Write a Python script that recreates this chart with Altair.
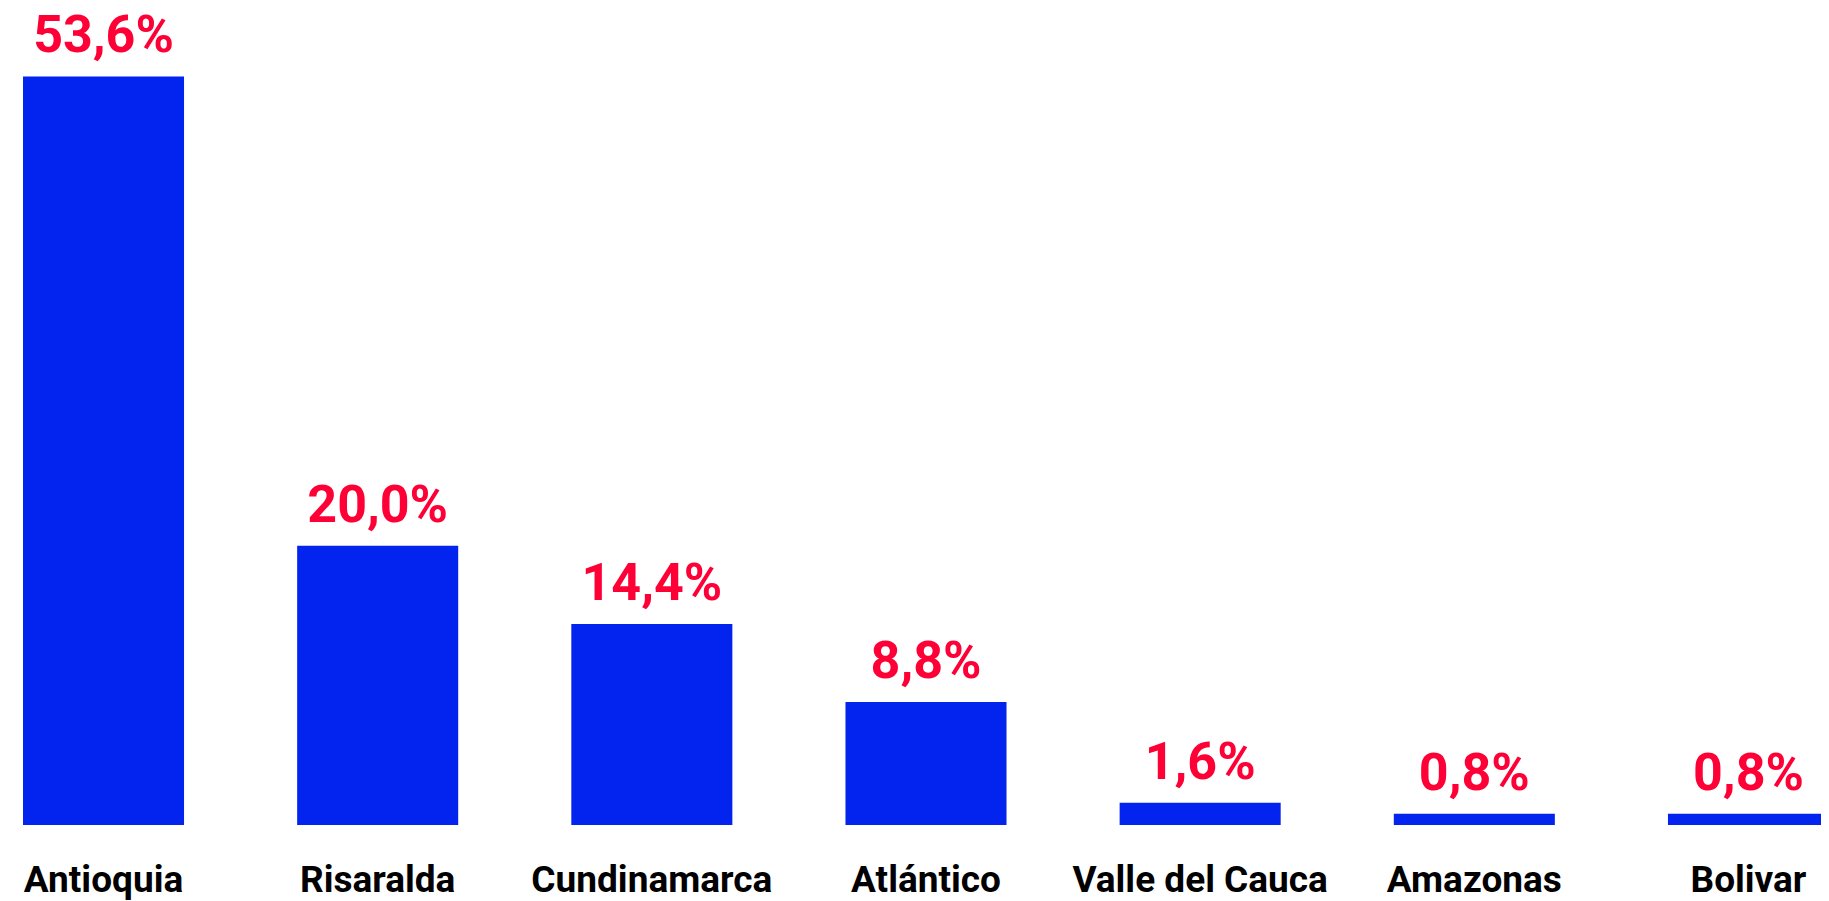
import altair as alt
import pandas as pd

departamentos = ["Antioquia", "Risaralda", "Cundinamarca", "Atlántico",
                 "Valle del Cauca", "Amazonas", "Bolivar"]
porcentajes = [53.6, 20.0, 14.4, 8.8, 1.6, 0.8, 0.8]
etiquetas = [f"{v:.1f}".replace(".", ",") + "%" for v in porcentajes]

df = pd.DataFrame({"dep": departamentos, "pct": porcentajes, "lab": etiquetas})

x = alt.X("dep:N", sort=departamentos, title=None,
          scale=alt.Scale(paddingInner=0.4126, paddingOuter=0, range=[0, 1806]),
          axis=alt.Axis(labelAngle=0, labelFont="Roboto", labelFontWeight="bold",
                        labelFontSize=37, labelColor="#000000", labelPadding=37,
                        ticks=False, tickSize=0, domain=False, grid=False,
                        labelOverlap=False, labelLimit=0))
y = alt.Y("pct:Q", title=None, axis=None, scale=alt.Scale(domain=[0, 58.5], nice=False, zero=True))

bars = alt.Chart(df).mark_bar(color="#0323EE").encode(x=x, y=y)
text = alt.Chart(df).mark_text(font="Roboto", fontWeight="bold", fontSize=52,
                               color="#FF0036", baseline="alphabetic", dy=-24).encode(
    x=x, y=y, text="lab:N")

chart = (bars + text).properties(
    width=1798, height=817,
    autosize=alt.AutoSizeParams(type="none"),
    padding={"left": 15, "top": 0, "right": 0, "bottom": 76},
).configure(background="#ffffff").configure_view(stroke=None)

chart.save("out.html", embed_options={"renderer": "svg", "actions": False})
